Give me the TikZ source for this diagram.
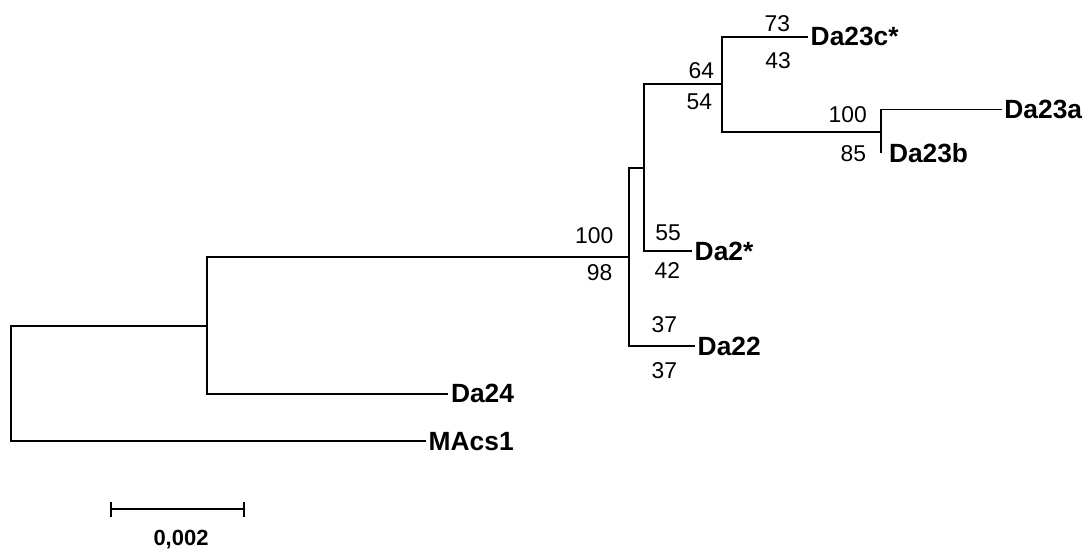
\documentclass[tikz,border=0pt]{standalone}
\usepackage{fontspec}
\setmainfont{Liberation Sans}
\usetikzlibrary{arrows.meta,positioning}
\tikzset{
  taxon/.style={anchor=west, inner xsep=1pt, inner ysep=0pt, font=\fontsize{15}{18}\selectfont\bfseries},
  boot/.style={anchor=east, inner sep=0pt, font=\fontsize{13}{15}\selectfont}
}

\begin{document}
\begin{tikzpicture}[x=0.02cm, y=-0.02cm, line width=1.1pt]
        \useasboundingbox (0,0) rectangle (1091,554);
        \coordinate (root) at (10.7,384);
        \coordinate (nA) at (207.3,326.3);
        \coordinate (nB) at (629,256.7);
        \coordinate (nC) at (644.3,167.7);
        \coordinate (nD) at (722.3,84.3);
        \coordinate (nE) at (881,131.7);
        \node[taxon] (macs) at (426,441.3) {MAcs1};
        \node[taxon] (da24) at (448.3,393.7) {Da24};
        \node[taxon] (da22) at (695,346) {Da22};
        \node[taxon] (da2) at (692,251) {Da2*};
        \node[taxon] (da23c) at (808,36.7) {Da23c*};
        \node[taxon] (da23a) at (1001.7,109.5) {Da23a};
        \node[taxon, inner xsep=4pt] (da23b) at (881,153.3) {Da23b};
        \draw (root) |- (nA);
        \draw (root) |- (macs.west);
        \draw (nA) |- (nB);
        \draw (nA) |- (da24.west);
        \draw (nB) |- (nC);
        \draw (nB) |- (da22.west);
        \draw (nC) |- (nD);
        \draw (nC) |- (da2.west);
        \draw (nD) |- (da23c.west);
        \draw (nD) |- (nE);
        \draw (nE) |- (da23a.west);
        \draw (nE) |- (da23b.west);
        \node[boot] (bB1) at (614.3,236) {100};
        \node[boot] (bB2) at (613.3,273) {98};
        \node[boot] (bD1) at (715,70.5) {64};
        \node[boot] (bD2) at (713,101.3) {54};
        \node[boot] (bE1) at (867.7,114.7) {100};
        \node[boot] (bE2) at (867,153.3) {85};
        \node[boot] (bC1) at (791,23.3) {73};
        \node[boot] (bC2) at (791.7,61) {43};
        \node[boot] (bT1) at (681.7,232.7) {55};
        \node[boot] (bT2) at (681,271) {42};
        \node[boot] (bS1) at (678,325) {37};
        \node[boot] (bS2) at (678,371) {37};
        \coordinate (sbl) at (110,509.3);
        \coordinate (sbr) at (245,509.3);
        \draw[{Bar[width=8.5pt]}-{Bar[width=8.5pt]}] (sbl) -- (sbr);
        \node[font=\fontsize{12.5}{15}\selectfont\bfseries, inner sep=0pt] (scale) at (181,540) {0,002};
\end{tikzpicture}
\end{document}
